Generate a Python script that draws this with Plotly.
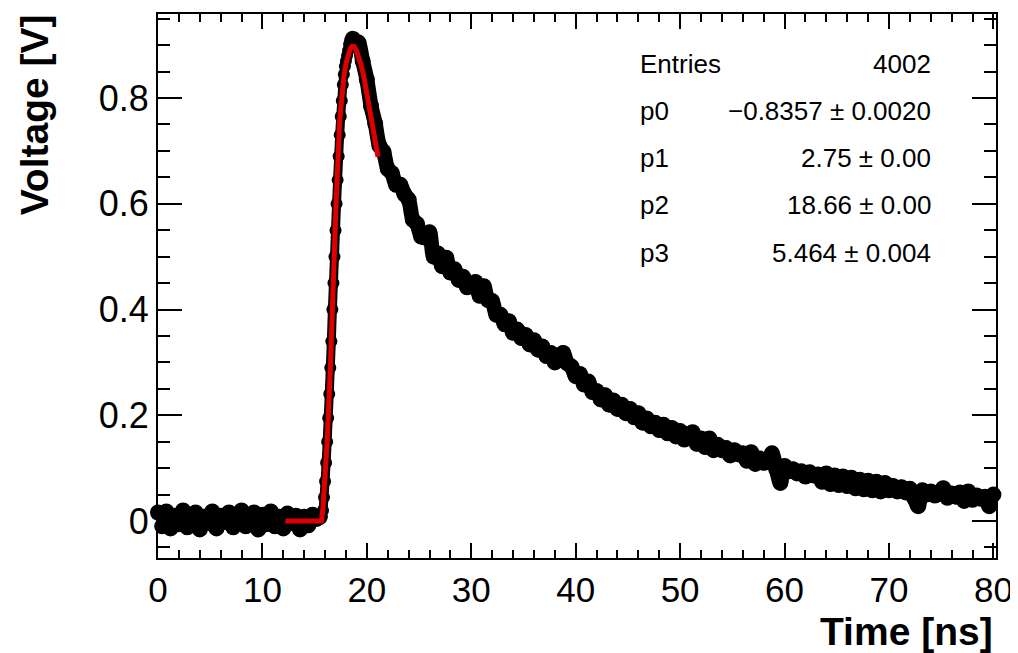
import numpy as np
import plotly.graph_objects as go

# waveform (V), three sampling segments
base_t0, base_t1 = 0.0, 15.2
base_v = [0.016, -0.010, 0.018, -0.014, 0.010, -0.006, 0.020, -0.012, 0.006, 0.016,
          -0.016, 0.008, -0.004, 0.018, -0.014, 0.010, -0.002, 0.016, -0.012, 0.008,
          0.020, -0.010, 0.004, 0.016, -0.016, 0.012, -0.006, 0.018, -0.010, 0.008,
          -0.014, 0.014, -0.004, 0.010, -0.016, 0.008, -0.008, 0.012, 0.004]

rise_t0, rise_t1 = 15.6, 19.0
rise_v = [0.004, 0.008, 0.020, 0.045, 0.075, 0.110, 0.150, 0.195, 0.240, 0.290,
          0.340, 0.400, 0.450, 0.500, 0.550, 0.600, 0.645, 0.690, 0.730, 0.765,
          0.795, 0.825, 0.845, 0.860, 0.870, 0.880, 0.890, 0.902, 0.910, 0.914,
          0.916, 0.912, 0.915, 0.910, 0.905]

decay_t0, decay_t1 = 19.2, 80.0
decay_v = [0.905, 0.870, 0.835, 0.785, 0.752, 0.710, 0.698, 0.666, 0.658, 0.636,
           0.636, 0.618, 0.608, 0.570, 0.562, 0.538, 0.536, 0.546, 0.500, 0.506,
           0.482, 0.498, 0.470, 0.476, 0.456, 0.462, 0.442, 0.446, 0.452, 0.426,
           0.444, 0.418, 0.416, 0.390, 0.390, 0.372, 0.378, 0.356, 0.362, 0.346,
           0.352, 0.334, 0.342, 0.324, 0.330, 0.312, 0.318, 0.300, 0.306, 0.318,
           0.298, 0.292, 0.274, 0.278, 0.258, 0.264, 0.244, 0.246, 0.230, 0.238,
           0.220, 0.228, 0.212, 0.220, 0.204, 0.212, 0.196, 0.204, 0.186, 0.194,
           0.179, 0.186, 0.172, 0.182, 0.166, 0.176, 0.160, 0.170, 0.154, 0.164,
           0.168, 0.146, 0.156, 0.140, 0.156, 0.134, 0.144, 0.134, 0.138, 0.124,
           0.134, 0.126, 0.128, 0.114, 0.130, 0.108, 0.118, 0.110, 0.114, 0.128,
           0.098, 0.072, 0.104, 0.094, 0.098, 0.090, 0.094, 0.084, 0.092, 0.086,
           0.088, 0.074, 0.090, 0.070, 0.086, 0.068, 0.084, 0.066, 0.082, 0.062,
           0.078, 0.060, 0.076, 0.058, 0.074, 0.056, 0.072, 0.058, 0.066, 0.056,
           0.064, 0.054, 0.061, 0.044, 0.028, 0.058, 0.050, 0.056, 0.048, 0.054,
           0.062, 0.044, 0.052, 0.046, 0.054, 0.038, 0.056, 0.040, 0.048, 0.042,
           0.046, 0.028, 0.050]

# fit curve (red)
fit_t = [12.2, 15.65, 15.8, 16.0, 16.2, 16.5, 16.75, 17.05, 17.4, 17.6, 17.8, 18.0, 18.2,
         18.4, 18.6, 18.8, 19.0, 19.2, 19.4, 19.67, 19.9, 20.2, 20.47, 20.8, 21.07]
fit_v = [0.0, 0.0, 0.025, 0.08, 0.15, 0.286, 0.44, 0.60, 0.758, 0.805, 0.84, 0.865, 0.882,
         0.893, 0.898, 0.897, 0.89, 0.879, 0.866, 0.845, 0.82, 0.795, 0.765, 0.728, 0.689]

stat_names = ["Entries", "p0", "p1", "p2", "p3"]
stat_vals = ["4002", "\u22120.8357 \u00b1 0.0020", "2.75 \u00b1 0.00",
             "18.66 \u00b1 0.00", "5.464 \u00b1 0.004"]

t_base = np.linspace(base_t0, base_t1, len(base_v))
t_rise = np.linspace(rise_t0, rise_t1, len(rise_v))
t_decay = np.linspace(decay_t0, decay_t1, len(decay_v))

FONT = "Liberation Sans, Arial, Helvetica, sans-serif"

fig = go.Figure()
# noisy parts drawn as a thick band, the steep edge thinner
for xs, ys, lw, ms in [(t_base, base_v, 15, 16),
                       (np.concatenate([t_base[-1:], t_rise]), base_v[-1:] + rise_v, 9, 12),
                       (np.concatenate([t_rise[-1:], t_decay]), rise_v[-1:] + decay_v, 15, 16)]:
    fig.add_trace(go.Scatter(x=xs, y=ys, mode="lines+markers",
                             line=dict(color="black", width=lw, shape="spline", smoothing=0.8),
                             marker=dict(color="black", size=ms),
                             cliponaxis=False, showlegend=False))
fig.add_trace(go.Scatter(x=fit_t, y=fit_v, mode="lines",
                         line=dict(color="#dd0000", width=5),
                         showlegend=False))

fig.update_xaxes(range=[0, 80.25], dtick=10, tick0=0, ticks="inside", ticklen=15,
                 tickwidth=1.5, tickcolor="black",
                 minor=dict(dtick=2, ticks="inside", ticklen=8, tickcolor="black"),
                 showline=True, linecolor="black", linewidth=2, mirror="allticks",
                 showgrid=False, zeroline=False, automargin=False,
                 tickfont=dict(family=FONT, size=35, color="black"))
fig.update_yaxes(range=[-0.07, 0.959], dtick=0.2, tick0=0, ticks="inside", ticklen=24,
                 tickwidth=1.5, tickcolor="black",
                 minor=dict(dtick=0.05, ticks="inside", ticklen=12, tickcolor="black"),
                 showline=True, linecolor="black", linewidth=2, mirror="allticks",
                 showgrid=False, zeroline=False, automargin=False,
                 tickfont=dict(family=FONT, size=36, color="black"))

# axis titles, ROOT style (aligned to the end of the axes)
fig.add_annotation(text="<b>Voltage [V]</b>", textangle=-90, xref="paper", yref="paper",
                   x=-0.148, y=1.004, xanchor="center", yanchor="top", showarrow=False,
                   font=dict(family=FONT, size=39, color="black"))
fig.add_annotation(text="<b>Time [ns]</b>", xref="paper", yref="paper",
                   x=0.999, y=-0.136, xanchor="right", yanchor="middle", showarrow=False,
                   font=dict(family=FONT, size=39, color="black"))

# stats box (no border)
rows_y = [0.908, 0.8217, 0.7353, 0.6489, 0.5607]
for name, val, yy in zip(stat_names, stat_vals, rows_y):
    fig.add_annotation(text=name, xref="paper", yref="paper", x=0.5728, y=yy,
                       xanchor="left", yanchor="middle", showarrow=False,
                       font=dict(family=FONT, size=26, color="black"))
    fig.add_annotation(text=val, xref="paper", yref="paper", x=0.9248, y=yy,
                       xanchor="right", yanchor="middle", showarrow=False,
                       font=dict(family=FONT, size=26, color="black"))

# page body keeps its 8px default margin, so the figure is 8px smaller each way
fig.update_layout(width=1010, height=645, margin=dict(l=150, r=22, t=6, b=95),
                  paper_bgcolor="white", plot_bgcolor="white")

fig.write_html("out.html")
